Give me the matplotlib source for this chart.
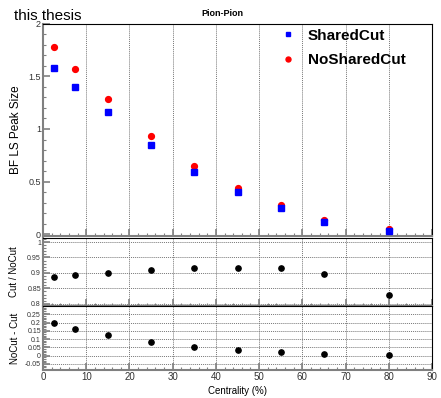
import matplotlib
matplotlib.use("Agg")
import matplotlib.pyplot as plt
from matplotlib.ticker import MultipleLocator

plt.rcParams['font.family'] = ['Liberation Sans', 'DejaVu Sans']

centrality = [2.5, 7.5, 15, 25, 35, 45, 55, 65, 80]
shared_cut = [1.58, 1.40, 1.157, 0.85, 0.593, 0.40, 0.247, 0.115, 0.035]
no_shared_cut = [1.78, 1.57, 1.285, 0.936, 0.647, 0.44, 0.276, 0.135, 0.055]
ratio = [0.888, 0.894, 0.901, 0.909, 0.916, 0.915, 0.915, 0.898, 0.828]
difference = [0.195, 0.163, 0.124, 0.081, 0.051, 0.035, 0.020, 0.010, 0.006]
xticks = [0, 10, 20, 30, 40, 50, 60, 70, 80, 90]

W, H = 441, 398
fig = plt.figure(figsize=(W / 100, H / 100), dpi=100)

def ax_px(x0, y0, x1, y1):
    return fig.add_axes([x0 / W, 1 - y1 / H, (x1 - x0) / W, (y1 - y0) / H])

ax1 = ax_px(43, 23.5, 432, 236)
ax2 = ax_px(43, 238, 432, 306)
ax3 = ax_px(43, 306, 432, 370)

gray = '#808080'
for ax in (ax1, ax2, ax3):
    ax.set_xlim(0, 90)
    ax.xaxis.set_major_locator(MultipleLocator(10))
    ax.xaxis.set_minor_locator(MultipleLocator(2))
    ax.tick_params(which='both', direction='in', color=gray, top=False, right=False)
    ax.tick_params(which='major', length=5, width=1.2, labelsize=6.5, pad=1.5,
                   labelcolor='#333333')
    ax.tick_params(which='minor', length=2.5, width=0.8)
    ax.spines['left'].set_color(gray)
    ax.spines['left'].set_linewidth(1.5)
    ax.spines['bottom'].set_color(gray)
    ax.spines['bottom'].set_linewidth(1.5)
    ax.spines['top'].set_color('black')
    ax.spines['right'].set_color('black')
    for xv in xticks[1:-1]:
        ax.axvline(xv, color='#777777', linestyle=(0, (1, 1)), linewidth=0.7, zorder=0)

# Main panel
ax1.set_ylim(-0.015, 2.0)
ax1.yaxis.set_minor_locator(MultipleLocator(0.1))
ax1.set_yticks([0, 0.5, 1, 1.5, 2])
ax1.set_yticklabels(['0', '0.5', '1', '1.5', '2'])
ax1.tick_params(labelbottom=False)
ax1.plot(centrality, shared_cut, 's', color='#0000ff', markersize=4.2, label='SharedCut', zorder=3)
ax1.plot(centrality, no_shared_cut, 'o', color='#ff0000', markersize=4.2, label='NoSharedCut', zorder=2)
fig.text(16 / W, 1 - 130 / H, 'BF LS Peak Size', fontsize=8.5, rotation=90,
         ha='center', va='center')
fig.text(222 / W, 1 - 13 / H, 'Pion-Pion', fontsize=6.5, fontweight='bold', ha='center', va='center')
leg = ax1.legend(loc='upper left', bbox_to_anchor=(0.57, 1.04), frameon=False,
                 prop={'weight': 'bold', 'size': 11}, handletextpad=0.7,
                 labelspacing=0.7, handlelength=1.2, markerscale=0.85)
fig.text(14 / W, 1 - 16 / H, 'this thesis', fontsize=11, va='center', ha='left')

# Ratio panel
ax2.set_ylim(0.793, 1.013)
ax2.set_yticks([0.8, 0.85, 0.9, 0.95, 1.0])
ax2.set_yticklabels(['0.8', '0.85', '0.9', '0.95', '1'])
ax2.yaxis.set_minor_locator(MultipleLocator(0.01))
ax2.tick_params(labelbottom=False)
ax2.tick_params(axis='y', labelsize=5)
for yv in [0.8, 0.85, 0.9, 0.95, 1.0]:
    ax2.axhline(yv, color='#777777', linestyle=(0, (1, 1)), linewidth=0.7, zorder=0)
ax2.plot(centrality, ratio, 'o', color='black', markersize=3.8, zorder=3)
fig.text(14 / W, 1 - 272 / H, 'Cut / NoCut', fontsize=7, rotation=90,
         ha='center', va='center')

# Difference panel
ax3.set_ylim(-0.087, 0.30)
ax3.set_yticks([-0.05, 0, 0.05, 0.1, 0.15, 0.2, 0.25])
ax3.set_yticklabels(['-0.05', '0', '0.05', '0.1', '0.15', '0.2', '0.25'])
ax3.yaxis.set_minor_locator(MultipleLocator(0.01))
ax3.tick_params(axis='y', labelsize=5)
ax3.tick_params(axis='x', labelsize=7)
ax3.set_xticks(xticks)
for yv in [-0.05, 0, 0.05, 0.1, 0.15, 0.2, 0.25]:
    ax3.axhline(yv, color='#777777', linestyle=(0, (1, 1)), linewidth=0.7, zorder=0)
ax3.plot(centrality, difference, 'o', color='black', markersize=3.8, zorder=3)
fig.text(15 / W, 1 - 338 / H, 'NoCut - Cut', fontsize=7, rotation=90,
         ha='center', va='center')
ax3.set_xlabel('Centrality (%)', fontsize=7, labelpad=3)

fig.savefig('out.png', dpi=100)
